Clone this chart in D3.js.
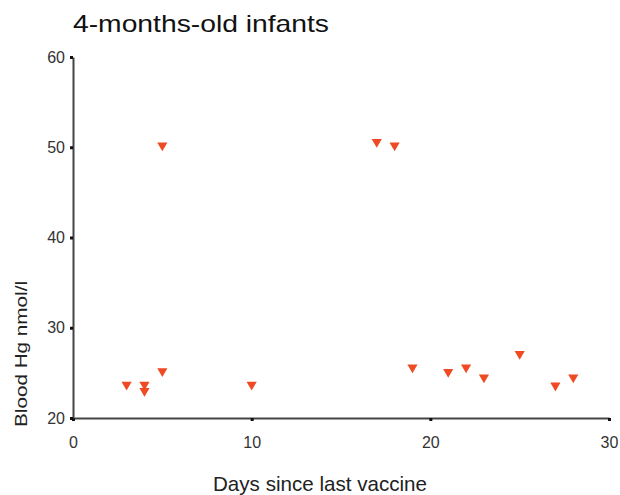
<!DOCTYPE html>
<html><head><meta charset="utf-8">
<script src="https://cdn.jsdelivr.net/npm/d3@7"></script>
<style>body{margin:0;background:#fff}svg{display:block}text{font-family:"Liberation Sans",Arial,sans-serif}</style>
</head><body>
<svg id="c" width="620" height="495"></svg>
<script>
const days = [3, 4, 4, 5, 5, 10, 17, 18, 19, 21, 22, 23, 25, 27, 28];
const hg   = [23.7, 23.7, 23.0, 25.2, 50.2, 23.7, 50.6, 50.2, 25.6, 25.1, 25.6, 24.5, 27.1, 23.6, 24.5];
const xTicks = [0, 10, 20, 30];
const yTicks = [20, 30, 40, 50, 60];
const title = "4-months-old infants";
const xLabel = "Days since last vaccine";
const yLabel = "Blood Hg nmol/l";

const svg = d3.select("#c");
const x = d3.scaleLinear().domain([0, 30]).range([73, 609]);
const y = d3.scaleLinear().domain([20, 60]).range([418, 57]);
const axisColor = "#444";

const gx = svg.append("g").attr("transform", "translate(0,418)")
  .call(d3.axisBottom(x).tickValues(xTicks).tickSize(3).tickPadding(16).tickSizeOuter(0));
const gy = svg.append("g").attr("transform", "translate(73,0)")
  .call(d3.axisLeft(y).tickValues(yTicks).tickSize(3).tickPadding(5).tickSizeOuter(0));
[gx, gy].forEach(g => {
  g.select(".domain").attr("stroke", axisColor).attr("stroke-width", 2);
  g.selectAll(".tick line").attr("stroke", "#111").attr("stroke-width", 3);
  g.selectAll(".tick text").attr("fill", "#333").style("font-size", "16px");
});

svg.append("text").attr("x", 73).attr("y", 31.5).attr("font-size", 24)
  .attr("textLength", 256).attr("lengthAdjust", "spacingAndGlyphs").attr("fill", "#111").text(title);
svg.append("text").attr("x", 320).attr("y", 491).attr("text-anchor", "middle").attr("font-size", 21)
  .attr("textLength", 214).attr("lengthAdjust", "spacingAndGlyphs").attr("fill", "#222").text(xLabel);
svg.append("text").attr("transform", "translate(27,354) rotate(-90)").attr("text-anchor", "middle").attr("font-size", 17)
  .attr("textLength", 146).attr("lengthAdjust", "spacingAndGlyphs").attr("fill", "#222").text(yLabel);

const tri = d3.symbol().type(d3.symbolTriangle).size(45);
svg.append("g").selectAll("path").data(days.map((d, i) => [d, hg[i]])).join("path")
  .attr("d", tri)
  .attr("transform", d => `translate(${x(d[0])},${y(d[1])}) rotate(180)`)
  .attr("fill", "#f04a24");
</script>
</body></html>
